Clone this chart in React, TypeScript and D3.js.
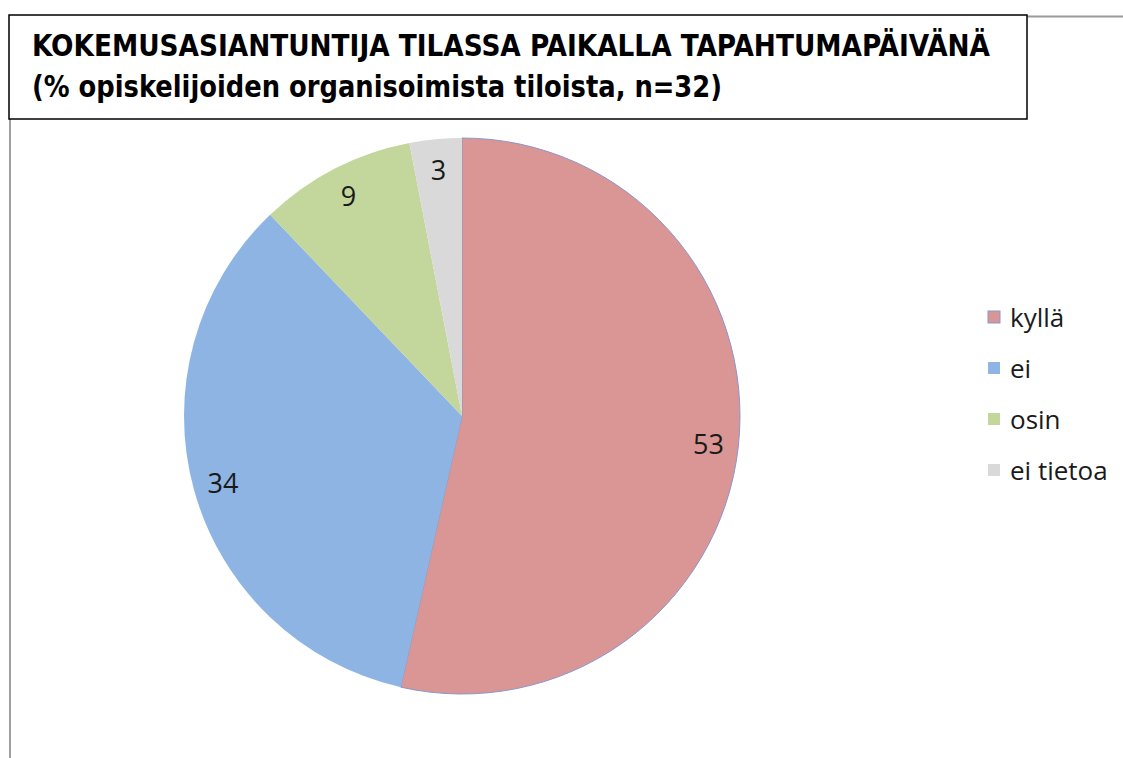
import React from "react";
import * as d3 from "d3";

const categories = ["kyllä", "ei", "osin", "ei tietoa"];
const values = [53, 34, 9, 3];
const colors = ["#D99694", "#8EB4E3", "#C3D69B", "#D9D9D9"];
const strokes = ["#8a96cc", "none", "none", "none"];
const titleLines = [
  "KOKEMUSASIANTUNTIJA TILASSA PAIKALLA TAPAHTUMAPÄIVÄNÄ",
  "(% opiskelijoiden organisoimista tiloista, n=32)",
];

export default function App() {
  const W = 1123, H = 758;
  const cx = 462, cy = 416, R = 278, labelR = 248;
  const pie = d3.pie<number>().sort(null).value((d) => d)(values);
  const arc = d3.arc<d3.PieArcDatum<number>>().innerRadius(0).outerRadius(R);
  const labelArc = d3.arc<d3.PieArcDatum<number>>().innerRadius(labelR).outerRadius(labelR);
  const legendY = d3.scalePoint<string>().domain(categories).range([317, 470]);

  return (
    <svg width={W} height={H} style={{ position: "absolute", left: 0, top: 0, background: "#fff" }}>
      <rect x={0} y={0} width={W} height={H} fill="#fff" />
      {/* frame lines */}
      <line x1={1027} y1={16.5} x2={W} y2={16.5} stroke="#9a9a9a" strokeWidth={2} />
      <line x1={10} y1={119} x2={10} y2={H} stroke="#a0a0a0" strokeWidth={2} />
      {/* title box */}
      <rect x={9} y={15} width={1018} height={104} fill="#fff" stroke="#000" strokeWidth={1.5} />
      <text x={32} y={56} fontFamily="'DejaVu Sans Condensed', 'DejaVu Sans', sans-serif" fontWeight="bold" fontSize={30} fill="#000" textLength={958} lengthAdjust="spacingAndGlyphs">
        {titleLines[0]}
      </text>
      <text x={32} y={97} fontFamily="'DejaVu Sans Condensed', 'DejaVu Sans', sans-serif" fontWeight="bold" fontSize={30} fill="#000" textLength={690} lengthAdjust="spacingAndGlyphs">
        {titleLines[1]}
      </text>
      {/* pie */}
      <g transform={`translate(${cx},${cy})`}>
        {pie.map((p, i) => (
          <path key={i} d={arc(p) || ""} fill={colors[i]} stroke={strokes[i]} strokeWidth={1} />
        ))}
        {pie.map((p, i) => {
          const [lx, ly] = labelArc.centroid(p);
          return (
            <text key={"l" + i} x={lx} y={ly} textAnchor="middle" dominantBaseline="central" fontFamily="'Open Sans', sans-serif" fontSize={27} fill="#1a1a1a">
              {values[i]}
            </text>
          );
        })}
      </g>
      {/* legend */}
      {categories.map((c, i) => (
        <g key={c} transform={`translate(988,${legendY(c)})`}>
          <rect x={0} y={-6} width={12} height={12} fill={colors[i]} stroke={strokes[i]} strokeWidth={1} />
          <text x={22} y={0} dominantBaseline="central" fontFamily="'Open Sans', sans-serif" fontSize={26} fill="#1a1a1a">
            {c}
          </text>
        </g>
      ))}
    </svg>
  );
}
